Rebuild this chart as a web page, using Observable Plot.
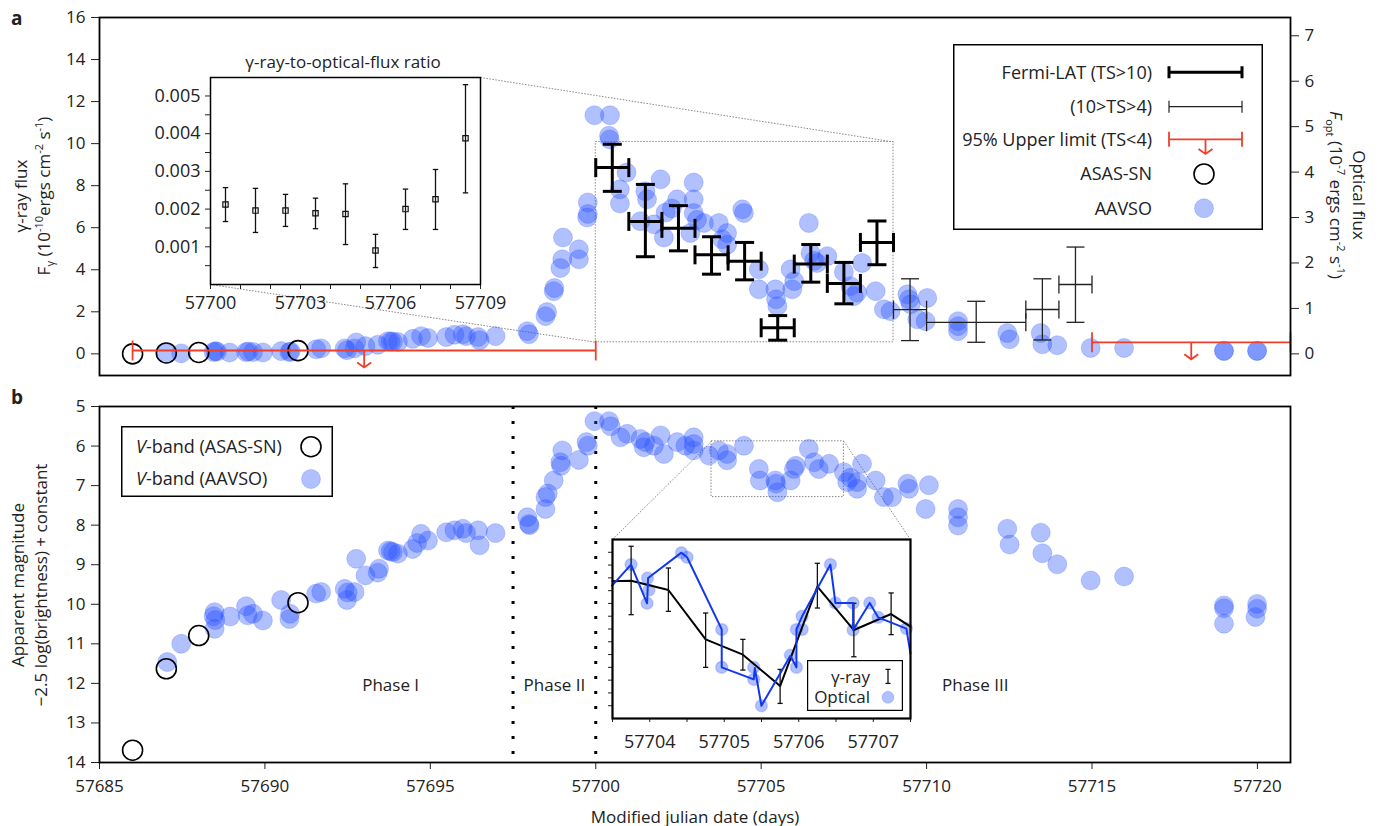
<!DOCTYPE html>
<html>
<head>
<meta charset="utf-8">
<script src="https://cdn.jsdelivr.net/npm/d3@7"></script>
<script src="https://cdn.jsdelivr.net/npm/@observablehq/plot@0.6"></script>
<style>
html,body{margin:0;padding:0;background:#fff;}
#wrap{position:relative;width:1381px;height:826px;overflow:hidden;font-family:"Open Sans",sans-serif;color:#222;}
#wrap > svg, #wrap > div{position:absolute;}
.t{transform:translate(-50%,-50%);white-space:nowrap;font-size:17px;line-height:1;}
.rot{white-space:nowrap;font-size:17px;line-height:23px;text-align:center;}
sup,sub{font-size:11px;line-height:0;}
.lbl{font-weight:bold;font-size:19px;line-height:1;}
</style>
</head>
<body>
<div id="wrap"></div>
<script>
// ---------------- DATA ----------------
// Panel a: AAVSO optical flux [MJD, F_opt (1e-7 erg cm^-2 s^-1)]
const aavsoFlux = [
  [57687.02,0.01],[57687.47,0.01],[57688.45,0.04],[57688.5,0.06],[57688.55,0.05],[57688.93,0.03],
  [57689.43,0.04],[57689.5,0.05],[57689.64,0.04],[57689.94,0.03],[57690.49,0.06],[57690.74,0.04],
  [57690.78,0.05],[57691.55,0.1],[57691.7,0.12],[57692.41,0.12],[57692.48,0.08],[57692.71,0.12],
  [57692.76,0.25],[57693.04,0.17],[57693.41,0.2],[57693.72,0.28],[57693.8,0.27],[57693.87,0.27],
  [57694.02,0.26],[57694.47,0.33],[57694.72,0.39],[57694.93,0.35],[57695.48,0.37],[57695.73,0.42],
  [57695.98,0.43],[57696.08,0.39],[57696.44,0.37],[57696.49,0.3],[57696.97,0.39],
  [57697.93,0.5],[57697.98,0.43],[57698.48,0.83],[57698.53,0.92],[57698.73,1.38],[57698.75,1.45],
  [57698.93,1.89],[57698.99,2.08],[57699.01,2.56],[57699.49,2.3],[57699.49,2.08],[57699.74,3.0],
  [57699.76,3.08],[57699.76,3.33],[57699.96,5.25],[57700.43,5.25],[57700.4,4.8],[57700.42,4.72],
  [57700.73,3.62],[57700.73,3.31],[57700.93,3.99],[57701.35,2.92],[57701.5,3.58],[57701.55,3.4],
  [57701.76,2.85],[57701.96,3.84],[57702.06,2.56],[57702.11,3.11],[57702.3,3.2],[57702.46,3.4],
  [57702.86,2.66],[57702.96,3.77],[57702.96,3.4],[57702.96,3.1],[57703.06,2.95],[57703.27,2.88],
  [57703.72,2.88],[57703.82,2.52],[57703.97,2.66],[57703.97,2.4],[57704.43,3.18],[57704.48,3.1],
  [57704.93,1.86],[57704.93,1.42],[57705.43,1.42],[57705.45,1.2],[57705.49,1.05],[57705.89,1.86],
  [57705.94,1.42],[57706.0,1.6],[57706.44,2.88],[57706.49,2.22],[57706.6,2.05],[57706.69,2.0],
  [57707.0,2.15],[57707.5,1.8],[57707.7,1.49],[57707.8,1.27],[57707.9,1.35],[57708.05,2.0],
  [57708.46,1.38],[57708.71,0.98],[57708.91,0.94],[57709.42,1.31],[57709.47,1.2],[57709.52,1.09],
  [57709.72,0.76],[57710.02,1.23],[57709.97,0.72],[57710.95,0.72],[57710.95,0.61],[57710.95,0.5],
  [57712.44,0.46],[57712.51,0.32],[57713.45,0.46],[57713.5,0.21],[57713.95,0.19],[57714.96,0.13],
  [57715.97,0.13],[57718.99,0.06],[57718.99,0.07],[57719.99,0.06],[57719.99,0.07]
];
// Panel a: ASAS-SN optical flux [MJD, F_opt]
const asasFlux = [[57686,0.0],[57687.02,0.02],[57688.0,0.03],[57691.0,0.07]];
// Fermi-LAT TS>10: [MJD centre, half bin width, F_gamma, lower, upper] (1e-10 erg cm^-2 s^-1)
const fermiStrong = [
  [57700.5,0.5,8.86,7.73,9.97],[57701.5,0.5,6.30,4.62,8.06],[57702.5,0.5,5.97,4.90,7.05],
  [57703.5,0.5,4.71,3.79,5.57],[57704.5,0.5,4.41,3.52,5.30],[57705.5,0.5,1.24,0.65,1.82],
  [57706.5,0.5,4.27,3.41,5.20],[57707.5,0.5,3.35,2.38,4.35],[57708.5,0.5,5.30,4.24,6.32]
];
// Fermi-LAT 10>TS>4
const fermiWeak = [
  [57709.5,0.5,2.10,0.63,3.57],[57711.5,1.5,1.50,0.55,2.50],
  [57713.5,0.5,2.11,0.66,3.57],[57714.5,0.5,3.30,1.50,5.08]
];
// 95% upper limits (TS<4): [MJD start, MJD end, F_gamma]
const upperLimits = [[57686,57700,0.16],[57715,57721,0.55]];
// Inset a: gamma-ray-to-optical flux ratio [MJD, ratio, lower, upper]
const ratio = [
  [57700.5,0.00212,0.00167,0.00257],[57701.5,0.00196,0.00138,0.00255],[57702.5,0.00196,0.00154,0.00239],
  [57703.5,0.00189,0.00148,0.00229],[57704.5,0.00187,0.00106,0.00267],[57705.5,0.00090,0.00045,0.00133],
  [57706.5,0.00200,0.00146,0.00253],[57707.5,0.00226,0.00146,0.00305],[57708.5,0.00388,0.00243,0.00530]
];
// Panel b: AAVSO V magnitudes [MJD, mag]
const aavsoMag = [
  [57687.05,11.46],[57687.47,11.0],[57688.45,10.3],[57688.48,10.2],[57688.5,10.4],[57688.48,10.62],
  [57688.95,10.31],[57689.43,10.05],[57689.48,10.28],[57689.64,10.24],[57689.94,10.41],[57690.49,9.89],
  [57690.74,10.37],[57690.76,10.24],[57691.55,9.73],[57691.7,9.69],[57692.41,9.61],[57692.48,9.89],
  [57692.5,9.7],[57692.71,9.69],[57692.76,8.85],[57693.04,9.27],[57693.41,9.2],[57693.45,9.1],
  [57693.72,8.64],[57693.8,8.66],[57693.87,8.68],[57694.02,8.72],[57694.47,8.6],[57694.6,8.45],
  [57694.72,8.22],[57694.93,8.39],[57695.48,8.18],[57695.73,8.13],[57695.98,8.09],[57696.08,8.2],
  [57696.44,8.13],[57696.49,8.51],[57696.97,8.2],
  [57697.93,7.8],[57697.98,7.97],[57698.0,8.0],[57698.48,7.59],[57698.48,7.29],[57698.55,7.2],
  [57698.73,6.87],[57698.93,6.41],[57698.95,6.5],[57698.99,6.11],[57699.49,6.35],[57699.72,5.9],
  [57699.76,5.99],[57699.96,5.37],
  [57700.4,5.37],[57700.45,5.5],[57700.75,5.78],[57700.95,5.69],[57701.35,5.82],[57701.45,6.03],
  [57701.5,5.9],[57701.76,5.99],[57701.96,5.73],[57702.06,6.2],[57702.46,5.9],[57702.71,5.99],
  [57702.96,5.78],[57702.96,5.95],[57702.96,6.11],[57703.42,6.24],[57703.72,6.11],[57703.97,6.36],
  [57703.97,6.2],[57704.48,5.99],[57704.93,6.58],[57704.96,6.87],[57705.43,6.87],[57705.49,7.17],
  [57705.45,6.95],[57705.89,6.87],[57705.99,6.58],[57706.05,6.5],[57706.44,6.07],[57706.6,6.41],
  [57706.74,6.58],[57707.05,6.45],[57707.5,6.66],[57707.6,6.91],[57707.7,6.8],[57707.9,6.91],
  [57707.9,7.08],[57708.05,6.45],[57708.46,6.87],[57708.71,7.29],[57708.96,7.29],[57709.42,6.95],
  [57709.47,7.08],[57710.07,6.99],[57709.97,7.59],[57710.95,7.59],[57710.95,7.8],[57710.95,8.01],
  [57712.44,8.09],[57712.51,8.49],[57713.45,8.19],[57713.5,8.71],[57713.95,8.99],[57714.96,9.4],
  [57715.97,9.3],[57718.99,10.03],[57718.99,10.1],[57718.99,10.49],[57719.99,9.99],[57719.99,10.11],
  [57719.94,10.32]
];
// Panel b: ASAS-SN V magnitudes
const asasMag = [[57686.0,13.69],[57687.02,11.63],[57688.0,10.79],[57691.0,9.96]];
// Phase boundaries and names
const phaseBounds = [57697.5, 57700];
const phaseNames = ["Phase I", "Phase II", "Phase III"];
// Inset b: gamma-ray (scaled) [MJD, value, lower, upper]
const gammaInset = [
  [57703.5,9.73,null,null],[57703.75,9.78,7.12,12.47],[57704.25,9.05,7.38,10.77],[57704.75,5.19,3.0,7.25],
  [57705.25,3.99,2.79,5.19],[57705.75,1.54,0.18,2.84],[57706.25,9.31,7.64,11.14],[57706.74,5.92,3.83,8.01],
  [57707.24,7.17,5.56,8.82],[57707.5,6.18,null,null]
];
// Inset b: optical (scaled) line vertices [MJD, value]
const opticalInset = [
  [57703.494,9.39],[57703.749,11.04],[57703.964,8.01],[57703.978,9.99],[57704.425,11.97],[57704.501,11.61],
  [57704.966,5.97],[57704.966,3.0],[57705.396,2.06],[57705.41,2.95],[57705.499,0.0],[57705.888,3.91],
  [57705.969,3.0],[57705.969,5.97],[57706.045,6.99],[57706.425,11.04],[57706.492,8.04],[57706.729,8.04],
  [57706.729,5.92],[57706.953,8.04],[57707.065,6.91],[57707.445,6.03],[57707.499,4.1]
];
// Inset b: optical measurements
const opticalInsetDots = [
  [57703.749,11.04],[57703.97,9.99],[57703.99,9.05],[57703.964,8.01],[57704.425,11.97],[57704.501,11.61],
  [57704.966,5.97],[57704.966,3.0],[57705.396,3.0],[57705.396,2.06],[57705.499,0.0],[57705.888,3.95],
  [57705.969,5.97],[57705.969,3.0],[57706.045,6.99],[57706.045,5.97],[57706.425,11.04],[57706.492,8.04],
  [57706.729,8.04],[57706.729,5.92],[57706.953,8.04],[57707.065,6.91],[57707.445,6.03]
];

// ---------------- LAYOUT ----------------
const X_DOMAIN = [57685, 57721];
const YA_DOMAIN = [-1.03, 16];
const K = 45.39 / 21.0;              // optical units -> gamma-axis units (dual axis)
const BLUE = "#2850ff", RED = "#ee3f2b";
const fmt = d => String(d);
const FONT = "'Open Sans', sans-serif";
const frameA = {left: 99, right: 1290, top: 17, bottom: 375};
const frameB = {left: 99, right: 1290, top: 406, bottom: 762};
const insetAFrame = {left: 210, right: 480, top: 77, bottom: 284};
const insetBFrame = {left: 612, right: 910, top: 539, bottom: 718};
const zoomA = {x1: 57700, x2: 57709, y1: 0.55, y2: 10.08};
const zoomB = {x1: 57703.5, x2: 57707.5, y1: 5.88, y2: 7.29};
const phaseLabelX = [57693.8, 57698.75, 57711.47];
const phaseLabelY = 12.05;

const xPix = d3.scaleLinear(X_DOMAIN, [frameA.left, frameA.right]);
const yAPix = d3.scaleLinear(YA_DOMAIN, [frameA.bottom, frameA.top]);
const yBPix = d3.scaleLinear([5, 14], [frameB.top, frameB.bottom]);

const connectorsA = [
  {x1: xPix.invert(insetAFrame.right), y1: yAPix.invert(insetAFrame.top), x2: zoomA.x2, y2: zoomA.y2},
  {x1: xPix.invert(insetAFrame.left), y1: yAPix.invert(insetAFrame.bottom), x2: zoomA.x1, y2: zoomA.y1}
];
const connectorsB = [
  {x1: zoomB.x1, y1: zoomB.y1, x2: xPix.invert(insetBFrame.left), y2: yBPix.invert(insetBFrame.top)},
  {x1: zoomB.x2, y1: zoomB.y1, x2: xPix.invert(insetBFrame.right), y2: yBPix.invert(insetBFrame.top)}
];

// custom symbols
const hcap = {draw(c, s) { const r = Math.sqrt(s / Math.PI); c.moveTo(-r, 0); c.lineTo(r, 0); }};
const vcap = {draw(c, s) { const r = Math.sqrt(s / Math.PI); c.moveTo(0, -r); c.lineTo(0, r); }};
const arrowDown = {draw(c, s) { const L = Math.sqrt(s / Math.PI); c.moveTo(0, 0); c.lineTo(0, L); c.moveTo(-7, L - 5); c.lineTo(0, L); c.lineTo(7, L - 5); }};

const dotBlue = {r: 9.5, fill: BLUE, fillOpacity: 0.36, stroke: BLUE, strokeOpacity: 0.22, strokeWidth: 1};
const dotted = {fill: "none", stroke: "#888", strokeWidth: 1, strokeDasharray: "1.5,1.5"};
const baseStyle = {background: "transparent", fontFamily: FONT, fontSize: "17px", color: "#222", overflow: "visible"};

function errorCross(data, {stroke, strokeWidth, cap}) {
  const s = {stroke, strokeWidth, fill: "none"};
  return [
    Plot.link(data, {x1: d => d[0] - d[1], x2: d => d[0] + d[1], y1: d => d[2], y2: d => d[2], ...s}),
    Plot.link(data, {x1: d => d[0], x2: d => d[0], y1: d => d[3], y2: d => d[4], ...s}),
    Plot.dot(data, {x: d => d[0], y: d => d[3], symbol: hcap, r: cap, ...s}),
    Plot.dot(data, {x: d => d[0], y: d => d[4], symbol: hcap, r: cap, ...s}),
    Plot.dot(data, {x: d => d[0] - d[1], y: d => d[2], symbol: vcap, r: cap, ...s}),
    Plot.dot(data, {x: d => d[0] + d[1], y: d => d[2], symbol: vcap, r: cap, ...s})
  ];
}

const wrap = document.getElementById("wrap");
function place(svg, left, top) { svg.style.position = "absolute"; svg.style.left = left + "px"; svg.style.top = top + "px"; wrap.appendChild(svg); }

// ---------------- PANEL A ----------------
const plotA = Plot.plot({
  width: 1381, height: 390,
  marginLeft: frameA.left, marginRight: 1381 - frameA.right, marginTop: frameA.top, marginBottom: 390 - frameA.bottom,
  x: {domain: X_DOMAIN, axis: null},
  y: {domain: YA_DOMAIN},
  style: baseStyle,
  marks: [
    Plot.axisY(d3.range(0, 17, 2), {anchor: "left", tickSize: 8, tickPadding: 6, fontSize: 17, tickFormat: fmt, label: null}),
    Plot.axisY(d3.range(0, 8), {anchor: "right", y: d => d * K, tickSize: 8, tickPadding: 6, fontSize: 17, tickFormat: fmt, label: null}),
    Plot.rect([zoomA], {x1: "x1", x2: "x2", y1: "y1", y2: "y2", ...dotted}),
    Plot.link(connectorsA, {x1: "x1", y1: "y1", x2: "x2", y2: "y2", ...dotted}),
    Plot.dot(aavsoFlux, {x: d => d[0], y: d => d[1] * K, ...dotBlue}),
    Plot.dot(asasFlux, {x: d => d[0], y: d => d[1] * K, r: 10, stroke: "#000", strokeWidth: 1.6, fill: "none"}),
    Plot.link(upperLimits, {x1: d => d[0], x2: d => d[1], y1: d => d[2], y2: d => d[2], stroke: RED, strokeWidth: 1.8}),
    Plot.dot(upperLimits, {x: d => d[0], y: d => d[2], symbol: vcap, r: 10, stroke: RED, strokeWidth: 1.8, fill: "none"}),
    Plot.dot(upperLimits, {x: d => d[1], y: d => d[2], symbol: vcap, r: 10, stroke: RED, strokeWidth: 1.8, fill: "none"}),
    Plot.dot(upperLimits, {x: d => (d[0] + d[1]) / 2, y: d => d[2], symbol: arrowDown, r: 17, stroke: RED, strokeWidth: 1.8, fill: "none"}),
    ...errorCross(fermiWeak, {stroke: "#222", strokeWidth: 1.3, cap: 9}),
    ...errorCross(fermiStrong, {stroke: "#000", strokeWidth: 3, cap: 9.5}),
    Plot.frame({stroke: "#000", strokeWidth: 1.8})
  ]
});
place(plotA, 0, 0);

// ---------------- INSET A ----------------
const iaL = 130, iaT = 40;
const insetA = Plot.plot({
  width: 366, height: 284,
  marginLeft: insetAFrame.left - iaL, marginRight: 366 - (insetAFrame.right - iaL),
  marginTop: insetAFrame.top - iaT, marginBottom: 284 - (insetAFrame.bottom - iaT),
  x: {domain: [57700, 57709]},
  y: {domain: [0, 0.00549]},
  style: baseStyle,
  marks: [
    Plot.axisX(d3.range(57700, 57710), {tickSize: 5, tickPadding: 7, fontSize: 18, tickFormat: d => (d - 57700) % 3 === 0 ? fmt(d) : "", label: null}),
    Plot.axisY(d3.range(1, 11).map(i => i * 0.0005), {tickSize: 5, tickPadding: 5, fontSize: 18, tickFormat: d => Math.round(d * 2000) % 2 === 0 ? d.toFixed(3) : "", label: null}),
    Plot.link(ratio, {x1: d => d[0], x2: d => d[0], y1: d => d[2], y2: d => d[3], stroke: "#111", strokeWidth: 1.3}),
    Plot.dot(ratio, {x: d => d[0], y: d => d[2], symbol: hcap, r: 2.7, stroke: "#111", strokeWidth: 1.3, fill: "none"}),
    Plot.dot(ratio, {x: d => d[0], y: d => d[3], symbol: hcap, r: 2.7, stroke: "#111", strokeWidth: 1.3, fill: "none"}),
    Plot.dot(ratio, {x: d => d[0], y: d => d[1], symbol: "square", r: 3, stroke: "#111", strokeWidth: 1.2, fill: "none"}),
    Plot.frame({stroke: "#000", strokeWidth: 1.5})
  ]
});
place(insetA, iaL, iaT);

// ---------------- PANEL B ----------------
const bTop = 390, bH = 436;
const plotB = Plot.plot({
  width: 1381, height: bH,
  marginLeft: frameB.left, marginRight: 1381 - frameB.right, marginTop: frameB.top - bTop, marginBottom: bH - (frameB.bottom - bTop),
  x: {domain: X_DOMAIN},
  y: {domain: [5, 14], reverse: true},
  style: baseStyle,
  marks: [
    Plot.axisX(d3.range(57685, 57721, 5), {tickSize: 7, tickPadding: 10, fontSize: 17, tickFormat: fmt, label: null}),
    Plot.axisY(d3.range(5, 15), {tickSize: 8, tickPadding: 6, fontSize: 17, tickFormat: fmt, label: null}),
    Plot.ruleX(phaseBounds, {stroke: "#000", strokeWidth: 3, strokeDasharray: "3,12"}),
    Plot.rect([zoomB], {x1: "x1", x2: "x2", y1: "y1", y2: "y2", ...dotted}),
    Plot.link(connectorsB, {x1: "x1", y1: "y1", x2: "x2", y2: "y2", ...dotted}),
    Plot.dot(aavsoMag, {x: d => d[0], y: d => d[1], ...dotBlue}),
    Plot.dot(asasMag, {x: d => d[0], y: d => d[1], r: 10, stroke: "#000", strokeWidth: 1.6, fill: "none"}),
    Plot.text(phaseNames, {x: (d, i) => phaseLabelX[i], y: () => phaseLabelY, text: d => d, fontSize: 17, fill: "#222"}),
    Plot.frame({stroke: "#000", strokeWidth: 1.8})
  ]
});
place(plotB, 0, bTop);

// ---------------- INSET B ----------------
const ibL = 590, ibT = 525, ibW = 330, ibH = 233;
const insetB = Plot.plot({
  width: ibW, height: ibH,
  marginLeft: insetBFrame.left - ibL, marginRight: ibW - (insetBFrame.right - ibL),
  marginTop: insetBFrame.top - ibT, marginBottom: ibH - (insetBFrame.bottom - ibT),
  x: {domain: [57703.5, 57707.5]},
  y: {domain: [-1, 13]},
  style: baseStyle,
  marks: [
    Plot.axisX(d3.range(57703.5, 57707.6, 0.5), {tickSize: 4, tickPadding: 13, fontSize: 18, tickFormat: d => Number.isInteger(d) ? fmt(d) : "", label: null}),
    Plot.axisY(d3.range(0, 13), {tickSize: 4, tickFormat: () => "", label: null}),
    Plot.dot(opticalInsetDots, {x: d => d[0], y: d => d[1], r: 6, fill: BLUE, fillOpacity: 0.36, stroke: BLUE, strokeOpacity: 0.2}),
    Plot.line(gammaInset, {x: d => d[0], y: d => d[1], stroke: "#000", strokeWidth: 2}),
    Plot.link(gammaInset.filter(d => d[2] != null), {x1: d => d[0], x2: d => d[0], y1: d => d[2], y2: d => d[3], stroke: "#111", strokeWidth: 1.3}),
    Plot.dot(gammaInset.filter(d => d[2] != null), {x: d => d[0], y: d => d[2], symbol: hcap, r: 2.6, stroke: "#111", strokeWidth: 1.3, fill: "none"}),
    Plot.dot(gammaInset.filter(d => d[2] != null), {x: d => d[0], y: d => d[3], symbol: hcap, r: 2.6, stroke: "#111", strokeWidth: 1.3, fill: "none"}),
    Plot.line(opticalInset, {x: d => d[0], y: d => d[1], stroke: "#1238ee", strokeWidth: 2}),
    Plot.frame({stroke: "#000", strokeWidth: 2.2})
  ]
});
place(insetB, ibL, ibT);

// ---------------- TEXT & LEGENDS ----------------
const html = `
<div class="lbl" style="left:11px;top:9px">a</div>
<div class="lbl" style="left:11px;top:388px">b</div>
<div class="t" style="left:343px;top:61px">γ-ray-to-optical-flux ratio</div>
<div class="rot" style="left:32px;top:196px;transform:translate(-50%,-50%) rotate(-90deg)">γ-ray flux<br>F<sub>γ</sub> (10<sup>-10</sup>ergs cm<sup>-2</sup> s<sup>-1</sup>)</div>
<div class="rot" style="left:1348px;top:195px;transform:translate(-50%,-50%) rotate(90deg)">Optical flux<br><i>F</i><sub>opt</sub> (10<sup>-7</sup> ergs cm<sup>-2</sup> s<sup>-1</sup>)</div>
<div class="rot" style="left:29px;top:585px;transform:translate(-50%,-50%) rotate(-90deg)">Apparent magnitude<br>−2.5 log(brightness) + constant</div>
<div class="t" style="left:695px;top:816px">Modified julian date (days)</div>
<svg style="position:absolute;left:953px;top:44px" width="310" height="186" font-family="${FONT}" font-size="18" fill="#222">
  <rect x="0.75" y="0.75" width="308.5" height="184.5" fill="#fff" stroke="#000" stroke-width="1.5"/>
  <text x="199" y="28.3" dy="0.35em" text-anchor="end">Fermi-LAT (TS&gt;10)</text>
  <text x="199" y="62.7" dy="0.35em" text-anchor="end">(10&gt;TS&gt;4)</text>
  <text x="199" y="95.3" dy="0.35em" text-anchor="end">95% Upper limit (TS&lt;4)</text>
  <text x="199" y="130" dy="0.35em" text-anchor="end">ASAS-SN</text>
  <text x="199" y="164.3" dy="0.35em" text-anchor="end">AAVSO</text>
  <g stroke="#000" stroke-width="3" fill="none"><path d="M216,28.3H289M216,22.3V34.3M289,22.3V34.3"/></g>
  <g stroke="#222" stroke-width="1.2" fill="none"><path d="M216,62.7H289M216,56.7V68.7M289,56.7V68.7"/></g>
  <g stroke="${RED}" stroke-width="1.8" fill="none"><path d="M216,95.3H289M216,87.8V102.8M289,87.8V102.8M252.5,95.3V110M245.5,105L252.5,110L259.5,105"/></g>
  <circle cx="251" cy="130" r="10" fill="none" stroke="#000" stroke-width="1.6"/>
  <circle cx="251" cy="164.3" r="9.5" fill="${BLUE}" fill-opacity="0.36" stroke="${BLUE}" stroke-opacity="0.22"/>
</svg>
<svg style="position:absolute;left:121px;top:426px" width="212" height="71" font-family="${FONT}" font-size="18" fill="#222">
  <rect x="0.75" y="0.75" width="210.5" height="69.5" fill="#fff" stroke="#000" stroke-width="1.5"/>
  <text x="15" y="20.7" dy="0.35em"><tspan font-style="italic">V</tspan>-band (ASAS-SN)</text>
  <text x="15" y="53" dy="0.35em"><tspan font-style="italic">V</tspan>-band (AAVSO)</text>
  <circle cx="190" cy="20.7" r="10" fill="none" stroke="#000" stroke-width="1.6"/>
  <circle cx="190" cy="53" r="9.5" fill="${BLUE}" fill-opacity="0.36" stroke="${BLUE}" stroke-opacity="0.22"/>
</svg>
<svg style="position:absolute;left:807px;top:660px" width="96" height="51" font-family="${FONT}" font-size="17" fill="#222">
  <rect x="0.6" y="0.6" width="94.8" height="49.8" fill="#fff" stroke="#000" stroke-width="1.2"/>
  <text x="63" y="16.7" dy="0.35em" text-anchor="end">γ-ray</text>
  <text x="63" y="37.3" dy="0.35em" text-anchor="end">Optical</text>
  <path d="M81,9.3V23.3M78.5,9.3H83.5M78.5,23.3H83.5" stroke="#111" stroke-width="1.3" fill="none"/>
  <circle cx="81" cy="37.3" r="6" fill="${BLUE}" fill-opacity="0.36" stroke="${BLUE}" stroke-opacity="0.2"/>
</svg>
`;
wrap.insertAdjacentHTML("beforeend", html);
</script>
</body>
</html>
